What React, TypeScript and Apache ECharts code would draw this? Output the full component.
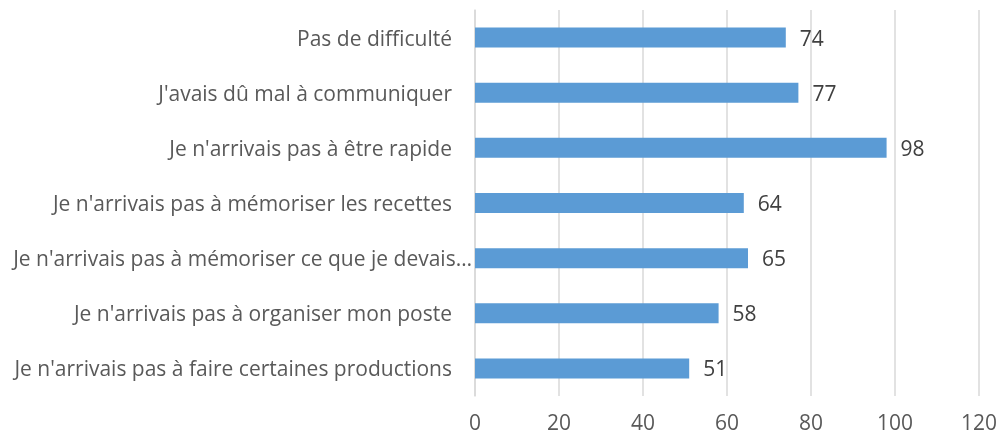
import React, { useEffect, useRef } from "react";
import * as echarts from "echarts";

const categories: string[] = [
  "Je n'arrivais pas à faire certaines productions",
  "Je n'arrivais pas à organiser mon poste",
  "Je n'arrivais pas à mémoriser ce que je devais…",
  "Je n'arrivais pas à mémoriser les recettes",
  "Je n'arrivais pas à être rapide",
  "J'avais dû mal à communiquer",
  "Pas de difficulté",
];
const values: number[] = [51, 58, 65, 64, 98, 77, 74];
const truncatedLabel = "Je n'arrivais pas à mémoriser ce que je devais…";

const FONT = "Open Sans";

export default function App() {
  const ref = useRef<HTMLDivElement>(null);
  useEffect(() => {
    document.body.style.margin = "0";
    document.body.style.overflow = "hidden";
    if (!ref.current) return;
    const chart = echarts.init(ref.current, undefined, { renderer: "svg" });
    chart.setOption({
      animation: false,
      grid: { left: 475, right: 21, top: 10, bottom: 40, containLabel: false },
      xAxis: {
        type: "value",
        min: 0,
        max: 120,
        interval: 20,
        axisLine: { show: false },
        axisTick: { show: false },
        splitLine: { show: true, lineStyle: { color: "#d9d9d9", width: 1.5 } },
        axisLabel: {
          color: "#595959",
          fontSize: 21,
          lineHeight: 20,
          fontFamily: FONT,
          margin: 16,
        },
      },
      yAxis: {
        type: "category",
        data: categories,
        axisLine: { show: true, lineStyle: { color: "#d9d9d9", width: 1.5 } },
        axisTick: { show: false },
        axisLabel: {
          color: "#595959",
          fontSize: 21,
          fontFamily: FONT,
          margin: 3,
          formatter: (v: string) => (v === truncatedLabel ? v : `${v}{s|}`),
          rich: { s: { width: 20 } },
        },
      },
      series: [
        {
          type: "bar",
          data: values,
          barWidth: 20,
          itemStyle: { color: "#5b9bd5" },
          label: {
            show: true,
            position: "right",
            distance: 14,
            color: "#404040",
            fontSize: 21,
            fontFamily: FONT,
          },
        },
      ],
    });
    return () => chart.dispose();
  }, []);
  return (
    <div
      ref={ref}
      style={{ position: "fixed", left: 0, top: 0, width: 1000, height: 436 }}
    />
  );
}
